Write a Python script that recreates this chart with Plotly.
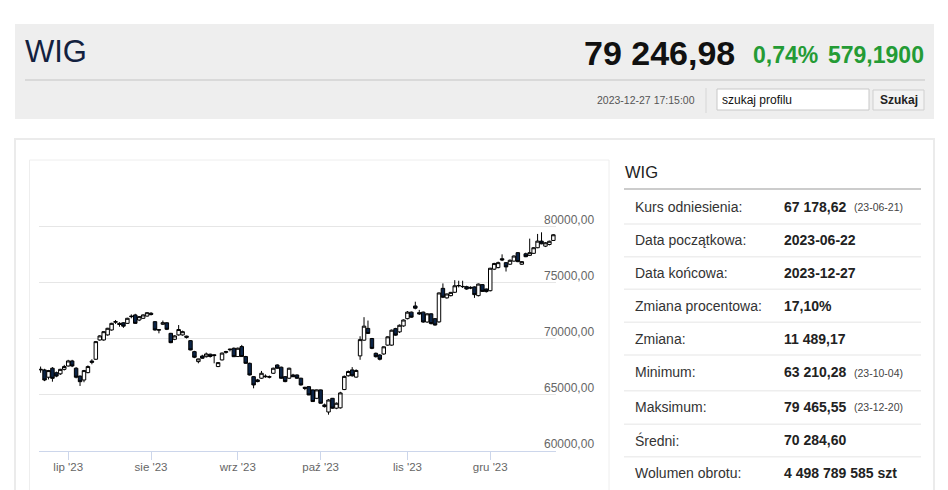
import pandas as pd
import plotly.graph_objects as go

# ---------------- data ----------------
holidays = ["2023-08-15", "2023-11-01", "2023-12-25", "2023-12-26"]
dates = [d.strftime("%Y-%m-%d") for d in pd.bdate_range("2023-06-22", "2023-12-27")
         if d.strftime("%Y-%m-%d") not in holidays]

open_ = [67200, 67200, 66550, 67350, 66950, 66850, 67250, 67550, 68000, 67350,
         66650, 66300, 66960, 67990, 68150, 69870, 69870, 70320, 70760, 71450,
         71350, 71400, 71350, 71950, 72100, 71650, 71800, 72000, 72250, 71500,
         70780, 71270, 71400, 70460, 69930, 70320, 70320, 70210, 69810, 68830,
         67940, 68440, 68380, 68600, 68550, 67500, 68090, 68760, 69000, 69130,
         68390, 69280, 68390, 67790, 66600, 66310, 66460, 66650, 66600, 66900,
         67640, 67440, 66600, 66460, 66750, 66750, 66460, 65650, 65710, 65420,
         64670, 65420, 64080, 63450, 64670, 63790, 63820, 65450, 66680, 67200,
         66560, 68450, 69850, 70900, 70000, 68680, 68530, 68620, 69410, 69410,
         70880, 70590, 71120, 71770, 72350, 72900, 72300, 72350, 71470, 72200,
         71770, 71480, 74470, 73620, 73820, 74120, 74700, 74620, 74620, 74560,
         74600, 73820, 74800, 74410, 74260, 76180, 76320, 77110, 76760, 76620,
         76900, 77650, 76620, 77550, 77410, 77590, 78090, 78680, 78230, 78380,
         78740]
high = [67500, 67300, 67200, 67450, 67050, 67300, 67650, 68100, 68100, 67450,
        66700, 67200, 67600, 68150, 69780, 70300, 70650, 70950, 71400, 71650,
        71450, 71450, 71850, 72150, 72200, 72000, 72150, 72350, 72350, 71550,
        70800, 71600, 71450, 70500, 70300, 71200, 70700, 70250, 69850, 68900,
        68200, 68550, 68750, 68650, 68600, 67900, 68750, 68900, 69100, 69200,
        69200, 69430, 68450, 67850, 66650, 66400, 67110, 66800, 66700, 67400,
        67700, 67500, 66650, 67400, 66850, 66800, 66500, 65700, 65750, 65450,
        65450, 65450, 64200, 64600, 64700, 64300, 65250, 66700, 67150, 67450,
        67250, 70200, 71900, 71600, 70050, 68750, 68600, 69300, 70200, 70800,
        70950, 71250, 71700, 72450, 72400, 73280, 72550, 72400, 72250, 72250,
        71800, 74100, 74910, 74000, 74150, 75200, 75150, 75150, 74700, 74650,
        74650, 74900, 74850, 74450, 76300, 76750, 76850, 77500, 76800, 77050,
        77400, 77700, 76900, 77650, 78900, 78150, 79320, 79465.55, 78600, 78720,
        79300]
low = [66950, 66200, 66350, 66150, 66550, 66750, 67150, 67500, 67450, 66450,
       65770, 66100, 66900, 67700, 68100, 69800, 69800, 70250, 70700, 71300,
       71050, 70950, 71300, 71800, 71300, 71550, 71750, 71950, 72050, 70700,
       70460, 71200, 70750, 69580, 69850, 70250, 70250, 70000, 68950, 68250,
       67790, 68200, 68300, 68300, 67790, 67450, 68050, 68650, 68850, 68350,
       68350, 68350, 67750, 66700, 65560, 66100, 66400, 66500, 66450, 66850,
       67300, 66400, 66100, 66400, 66550, 66400, 65800, 65400, 64950, 64350,
       64600, 64200, 63850, 63210.28, 63750, 63700, 63750, 65400, 66600, 66600,
       66500, 68100, 69800, 70400, 69050, 68300, 68050, 68550, 69350, 69350,
       70250, 70500, 71050, 71700, 71850, 72600, 72100, 71400, 71400, 71250,
       71150, 71400, 73600, 73550, 73750, 74050, 74550, 74500, 74350, 74400,
       73620, 73750, 74150, 74100, 74200, 76100, 76250, 76900, 75970, 76550,
       76850, 76800, 76550, 77250, 77350, 77550, 78050, 78400, 78150, 78300,
       78700]
close = [67250, 66300, 67140, 66450, 66650, 67250, 67500, 68000, 67550, 66550,
         66150, 67140, 67500, 67880, 69720, 70230, 70610, 70910, 71350, 71500,
         71250, 71100, 71800, 71980, 71350, 71950, 72100, 72300, 72150, 70760,
         70760, 71410, 70820, 69630, 70230, 70800, 70610, 70110, 68980, 68330,
         68180, 68240, 68620, 68400, 68480, 67850, 68700, 68830, 69040, 68380,
         69130, 68390, 67790, 66750, 65860, 66160, 66900, 66600, 66560, 67350,
         67350, 66460, 66160, 67350, 66600, 66460, 65860, 65560, 64970, 64380,
         65420, 64230, 63930, 64520, 63790, 64230, 65150, 66620, 67060, 66680,
         67150, 69900, 71100, 70450, 69120, 68380, 68150, 69260, 70150, 70740,
         70300, 71180, 71650, 72350, 71900, 72700, 72200, 71470, 72200, 71330,
         71200, 74060, 73680, 73970, 74110, 74700, 74720, 74640, 74410, 74500,
         73910, 74850, 74200, 74180, 76260, 76680, 76760, 77000, 76380, 76970,
         77350, 76850, 76850, 77290, 77650, 78090, 78680, 78440, 78530, 78667.79,
         79246.98]

tick_dates = ["2023-07-03", "2023-08-01", "2023-09-01", "2023-10-02", "2023-11-02", "2023-12-01"]
tick_labels = ["lip '23", "sie '23", "wrz '23", "paź '23", "lis '23", "gru '23"]
y_ticks = [60000, 65000, 70000, 75000, 80000, 85000]
y_tick_labels = ["60000,00", "65000,00", "70000,00", "75000,00", "80000,00", ""]

table_labels = ["Kurs odniesienia:", "Data początkowa:", "Data końcowa:", "Zmiana procentowa:",
                "Zmiana:", "Minimum:", "Maksimum:", "Średni:", "Wolumen obrotu:"]
table_values = ["67 178,62", "2023-06-22", "2023-12-27", "17,10%", "11 489,17",
                "63 210,28", "79 465,55", "70 284,60", "4 498 789 585 szt"]
table_notes = ["(23-06-21)", "", "", "", "", "(23-10-04)", "(23-12-20)", "", ""]

# ---------------- page geometry helpers ----------------
# Coordinates below are picture pixels of the 948 x 490 window; the figure is
# made to fill the whole window (body margin removed after plotting).
W, H = 948, 490
def X(px): return px / W
def Y(py): return 1 - py / H

FONT = "Liberation Sans, Arial, sans-serif"

fig = go.Figure()
fig.add_trace(go.Candlestick(
    x=dates, open=open_, high=high, low=low, close=close,
    increasing=dict(line=dict(color="#000000", width=1), fillcolor="#ffffff"),
    decreasing=dict(line=dict(color="#000000", width=1), fillcolor="#0b2447"),
    whiskerwidth=0, showlegend=False, hoverinfo="skip",
))

shapes = []
ann = []

def rect(x0, y0, x1, y1, fill="rgba(0,0,0,0)", line="rgba(0,0,0,0)", lw=0):
    shapes.append(dict(type="rect", xref="paper", yref="paper", x0=X(x0), x1=X(x1),
                       y0=Y(y1), y1=Y(y0), fillcolor=fill, line=dict(color=line, width=lw),
                       layer="below"))

def hline(x0, x1, y, color, lw):
    shapes.append(dict(type="line", xref="paper", yref="paper", x0=X(x0), x1=X(x1),
                       y0=Y(y), y1=Y(y), line=dict(color=color, width=lw), layer="below"))

def vline(x, y0, y1, color, lw):
    shapes.append(dict(type="line", xref="paper", yref="paper", x0=X(x), x1=X(x),
                       y0=Y(y0), y1=Y(y1), line=dict(color=color, width=lw), layer="below"))

def text(x, y, s, size, color="#333333", anchor="left", family=FONT):
    ann.append(dict(xref="paper", yref="paper", x=X(x), y=Y(y), text=s, showarrow=False,
                    xanchor=anchor, yanchor="middle", font=dict(family=family, size=size, color=color)))

# header
rect(15, 24, 934, 119, fill="#eeeeee")
hline(25, 925, 80, "#d9d9d9", 2)
text(23, 51, "WIG", 31, "#13213f")
text(737, 53, "<b>79 246,98</b>", 34, "#111111", anchor="right")
text(751, 55, "<b>0,74%</b>", 23, "#249b35")
text(926, 55, "<b>579,1900</b>", 23, "#249b35", anchor="right")
text(697, 100, "2023-12-27 17:15:00", 10.5, "#555555", anchor="right")
vline(706, 88, 113, "#d6d6d6", 1)
rect(717, 89, 869, 110, fill="#ffffff", line="#c8c8c8", lw=1)
text(720, 99.5, "szukaj profilu", 12, "#111111")
rect(873, 90, 924, 110, fill="#f3f3f3", line="#cfcfcf", lw=1)
text(898.5, 100, "<b>Szukaj</b>", 12, "#222222", anchor="center")

# main panel + chart box
rect(15, 139, 934, 520, fill="#ffffff", line="#ebebeb", lw=2)
rect(29.5, 160, 609, 520, fill="#ffffff", line="#eeeeee", lw=1)

# right table
text(623, 172, "WIG", 16.5, "#222222")
hline(624, 921, 189, "#cccccc", 2)
row_y = [206.7, 240, 272.7, 305.5, 339.3, 372.3, 406.7, 440, 473.3]
sep_y = [224, 256.7, 289.3, 322.3, 355, 390.7, 424.3, 456.7]
for yy in sep_y:
    hline(624, 921, yy, "#eeeeee", 1.5)
for lab, val, note, yy in zip(table_labels, table_values, table_notes, row_y):
    text(632.5, yy, lab, 14, "#333333")
    text(781.5, yy, "<b>" + val + "</b>", 14, "#222222")
    if note:
        text(852, yy + 0.5, note, 10.5, "#444444")

fig.update_layout(
    width=W, height=H, margin=dict(l=0, r=0, t=0, b=0),
    paper_bgcolor="#ffffff", plot_bgcolor="rgba(0,0,0,0)",
    shapes=shapes, annotations=ann, showlegend=False,
    boxgap=0.12, boxgroupgap=0,
    xaxis=dict(
        type="category", domain=[X(39.3), X(556)], range=[-0.33, 130.67],
        rangeslider=dict(visible=False), showgrid=False, zeroline=False,
        showline=True, linecolor="#ccd6eb", linewidth=1,
        ticks="outside", ticklen=8, tickcolor="#ccd6eb", tickwidth=1,
        tickmode="array", tickvals=tick_dates, ticktext=tick_labels,
        ticklabelstandoff=-3,
        tickfont=dict(family=FONT, size=11.5, color="#666666"), fixedrange=True,
    ),
    yaxis=dict(
        domain=[Y(450.7), Y(170.2)], range=[60000, 85000], side="right",
        tickmode="array", tickvals=y_ticks, ticktext=y_tick_labels,
        showgrid=True, gridcolor="#e6e6e6", gridwidth=1, zeroline=False, showline=False,
        ticks="", ticklabelstandoff=-13, ticklabelshift=-7,
        tickfont=dict(family=FONT, size=12, color="#666666"), fixedrange=True,
    ),
)

# let the figure fill the browser window exactly (no body margin, no scrollbars)
fit_window = """
var gd = document.getElementById('{plot_id}');
var de = document.documentElement, bd = document.body;
de.style.margin = '0'; de.style.padding = '0'; de.style.overflow = 'hidden';
bd.style.margin = '0'; bd.style.padding = '0'; bd.style.overflow = 'hidden';
var w = window.innerWidth || 948, h = window.innerHeight || 490;
gd.style.width = w + 'px'; gd.style.height = h + 'px';
if (w !== 948 || h !== 490) { return Plotly.relayout(gd, {width: w, height: h}); }
"""

fig.write_html("out.html", config={"displayModeBar": False}, post_script=fit_window)
